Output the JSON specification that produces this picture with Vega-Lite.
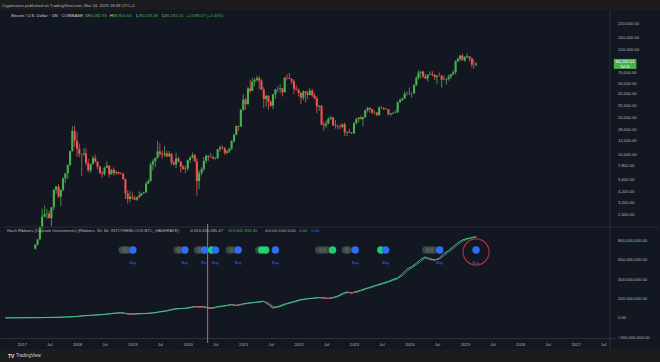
{
"$schema":"https://vega.github.io/schema/vega-lite/v6.json",
"width":660,"height":339,"autosize":"none",
"padding":{"left":0,"right":0,"top":10,"bottom":13},
"background":"#1c1c1e",
"title":{"text":"Cryptorover published on TradingView.com, Mar 24, 2025 18:49 UTC+1","anchor":"start","frame":"group","fontSize":4.2,"fontWeight":"normal","color":"#b2b5be","font":"Liberation Sans","offset":1.5,"dx":2},
"config":{"view":{"stroke":null,"fill":"#131722"},"axis":{"labelColor":"#b2b5be","labelFont":"Liberation Sans","labelFontSize":4.2,"titleFont":"Liberation Sans","domainColor":"#2a2e39","grid":false,"ticks":false},"text":{"font":"Liberation Sans"}},
"datasets":{
"btc":[
{"d":"2017-04-01","o":1080,"h":1210,"l":1060,"c":1190},{"d":"2017-04-16","o":1190,"h":1350,"l":1170,"c":1350},
{"d":"2017-05-01","o":1350,"h":1850,"l":1340,"c":1800},{"d":"2017-05-16","o":1800,"h":2790,"l":1700,"c":2300},
{"d":"2017-06-01","o":2300,"h":2980,"l":2300,"c":2450},{"d":"2017-06-16","o":2450,"h":2780,"l":2200,"c":2480},
{"d":"2017-07-01","o":2480,"h":2650,"l":2200,"c":2230},{"d":"2017-07-16","o":2230,"h":2900,"l":1830,"c":2870},
{"d":"2017-08-01","o":2870,"h":4400,"l":2700,"c":4350},{"d":"2017-08-16","o":4350,"h":4750,"l":3950,"c":4700},
{"d":"2017-09-01","o":4700,"h":4980,"l":3600,"c":3700},{"d":"2017-09-16","o":3700,"h":4400,"l":2970,"c":4350},
{"d":"2017-10-01","o":4350,"h":5850,"l":4200,"c":5700},{"d":"2017-10-16","o":5700,"h":6450,"l":5100,"c":6450},
{"d":"2017-11-01","o":6450,"h":7900,"l":5600,"c":7800},{"d":"2017-11-16","o":7800,"h":11000,"l":7700,"c":10900},
{"d":"2017-12-01","o":10900,"h":19700,"l":10700,"c":17500},{"d":"2017-12-16","o":17500,"h":19900,"l":12000,"c":13900},
{"d":"2018-01-01","o":13900,"h":17200,"l":9500,"c":11500},{"d":"2018-01-16","o":11500,"h":13000,"l":9400,"c":10200},
{"d":"2018-02-01","o":10200,"h":10300,"l":6000,"c":10100},{"d":"2018-02-16","o":10100,"h":11700,"l":9700,"c":10300},
{"d":"2018-03-01","o":10300,"h":11600,"l":7700,"c":8200},{"d":"2018-03-16","o":8200,"h":9100,"l":6600,"c":6900},
{"d":"2018-04-01","o":6900,"h":8100,"l":6450,"c":8000},{"d":"2018-04-16","o":8000,"h":9750,"l":7900,"c":9200},
{"d":"2018-05-01","o":9200,"h":9950,"l":8300,"c":8500},{"d":"2018-05-16","o":8500,"h":8600,"l":7050,"c":7500},
{"d":"2018-06-01","o":7500,"h":7750,"l":6300,"c":6500},{"d":"2018-06-16","o":6500,"h":6800,"l":5800,"c":6350},
{"d":"2018-07-01","o":6350,"h":7500,"l":6100,"c":7350},{"d":"2018-07-16","o":7350,"h":8500,"l":7300,"c":7700},
{"d":"2018-08-01","o":7700,"h":7800,"l":5900,"c":6300},{"d":"2018-08-16","o":6300,"h":7100,"l":6250,"c":7000},
{"d":"2018-09-01","o":7000,"h":7400,"l":6100,"c":6500},{"d":"2018-09-16","o":6500,"h":6850,"l":6200,"c":6620},
{"d":"2018-10-01","o":6620,"h":6700,"l":6200,"c":6450},{"d":"2018-10-16","o":6450,"h":6600,"l":6250,"c":6350},
{"d":"2018-11-01","o":6350,"h":6550,"l":5500,"c":5600},{"d":"2018-11-16","o":5600,"h":5650,"l":3500,"c":4000},
{"d":"2018-12-01","o":4000,"h":4300,"l":3150,"c":3500},{"d":"2018-12-16","o":3500,"h":4250,"l":3250,"c":3700},
{"d":"2019-01-01","o":3700,"h":4100,"l":3450,"c":3600},{"d":"2019-01-16","o":3600,"h":3800,"l":3400,"c":3450},
{"d":"2019-02-01","o":3450,"h":3700,"l":3350,"c":3650},{"d":"2019-02-16","o":3650,"h":4200,"l":3600,"c":3800},
{"d":"2019-03-01","o":3800,"h":4000,"l":3750,"c":4000},{"d":"2019-03-16","o":4000,"h":4150,"l":3950,"c":4100},
{"d":"2019-04-01","o":4100,"h":5300,"l":4050,"c":5050},{"d":"2019-04-16","o":5050,"h":5600,"l":4950,"c":5350},
{"d":"2019-05-01","o":5350,"h":8300,"l":5300,"c":7900},{"d":"2019-05-16","o":7900,"h":9000,"l":6900,"c":8550},
{"d":"2019-06-01","o":8550,"h":9300,"l":7450,"c":9300},{"d":"2019-06-16","o":9300,"h":13800,"l":9050,"c":10800},
{"d":"2019-07-01","o":10800,"h":13200,"l":9600,"c":10200},{"d":"2019-07-16","o":10200,"h":11000,"l":9100,"c":10000},
{"d":"2019-08-01","o":10000,"h":12300,"l":9450,"c":10300},{"d":"2019-08-16","o":10300,"h":10950,"l":9400,"c":9600},
{"d":"2019-09-01","o":9600,"h":10900,"l":9500,"c":10200},{"d":"2019-09-16","o":10200,"h":10350,"l":7800,"c":8300},
{"d":"2019-10-01","o":8300,"h":8700,"l":7700,"c":7950},{"d":"2019-10-16","o":7950,"h":10500,"l":7300,"c":9150},
{"d":"2019-11-01","o":9150,"h":9500,"l":8450,"c":8500},{"d":"2019-11-16","o":8500,"h":8600,"l":6550,"c":7550},
{"d":"2019-12-01","o":7550,"h":7850,"l":7050,"c":7100},{"d":"2019-12-16","o":7100,"h":7700,"l":6450,"c":7200},
{"d":"2020-01-01","o":7200,"h":8900,"l":6850,"c":8800},{"d":"2020-01-16","o":8800,"h":9600,"l":8250,"c":9350},
{"d":"2020-02-01","o":9350,"h":10500,"l":9150,"c":9900},{"d":"2020-02-16","o":9900,"h":10200,"l":8500,"c":8550},
{"d":"2020-03-01","o":8550,"h":9200,"l":3800,"c":5350},{"d":"2020-03-16","o":5350,"h":6900,"l":4450,"c":6450},
{"d":"2020-04-01","o":6450,"h":7450,"l":6150,"c":7100},{"d":"2020-04-16","o":7100,"h":9400,"l":6750,"c":8650},
{"d":"2020-05-01","o":8650,"h":10050,"l":8150,"c":9700},{"d":"2020-05-16","o":9700,"h":9900,"l":8650,"c":9450},
{"d":"2020-06-01","o":9450,"h":10400,"l":9250,"c":9450},{"d":"2020-06-16","o":9450,"h":9800,"l":8950,"c":9150},
{"d":"2020-07-01","o":9150,"h":9450,"l":8900,"c":9200},{"d":"2020-07-16","o":9200,"h":11450,"l":9000,"c":11350},
{"d":"2020-08-01","o":11350,"h":12450,"l":10700,"c":11850},{"d":"2020-08-16","o":11850,"h":12450,"l":11300,"c":11650},
{"d":"2020-09-01","o":11650,"h":12050,"l":9900,"c":10450},{"d":"2020-09-16","o":10450,"h":11150,"l":10150,"c":10800},
{"d":"2020-10-01","o":10800,"h":11700,"l":10400,"c":11500},{"d":"2020-10-16","o":11500,"h":14100,"l":11200,"c":13800},
{"d":"2020-11-01","o":13800,"h":16500,"l":13200,"c":16000},{"d":"2020-11-16","o":16000,"h":19850,"l":15800,"c":19700},
{"d":"2020-12-01","o":19700,"h":19900,"l":17600,"c":19400},{"d":"2020-12-16","o":19400,"h":29300,"l":19300,"c":29000},
{"d":"2021-01-01","o":29000,"h":41900,"l":28000,"c":36800},{"d":"2021-01-16","o":36800,"h":38500,"l":28900,"c":33100},
{"d":"2021-02-01","o":33100,"h":49700,"l":32300,"c":47900},{"d":"2021-02-16","o":47900,"h":58300,"l":43000,"c":45100},
{"d":"2021-03-01","o":45100,"h":61700,"l":45000,"c":55900},{"d":"2021-03-16","o":55900,"h":61000,"l":50300,"c":58800},
{"d":"2021-04-01","o":58800,"h":64850,"l":56500,"c":61300},{"d":"2021-04-16","o":61300,"h":64000,"l":47000,"c":57700},
{"d":"2021-05-01","o":57700,"h":59600,"l":46200,"c":46500},{"d":"2021-05-16","o":46500,"h":49800,"l":30000,"c":37300},
{"d":"2021-06-01","o":37300,"h":41300,"l":31000,"c":40200},{"d":"2021-06-16","o":40200,"h":41000,"l":28800,"c":35000},
{"d":"2021-07-01","o":35000,"h":36000,"l":31100,"c":31800},{"d":"2021-07-16","o":31800,"h":42300,"l":29300,"c":41500},
{"d":"2021-08-01","o":41500,"h":47200,"l":37300,"c":46900},{"d":"2021-08-16","o":46900,"h":50500,"l":43900,"c":47100},
{"d":"2021-09-01","o":47100,"h":52900,"l":42800,"c":48000},{"d":"2021-09-16","o":48000,"h":48500,"l":39600,"c":43800},
{"d":"2021-10-01","o":43800,"h":62900,"l":43300,"c":61600},{"d":"2021-10-16","o":61600,"h":67000,"l":58000,"c":61300},
{"d":"2021-11-01","o":61300,"h":69000,"l":60000,"c":60100},{"d":"2021-11-16","o":60100,"h":60300,"l":53300,"c":57000},
{"d":"2021-12-01","o":57000,"h":59000,"l":42000,"c":47600},{"d":"2021-12-16","o":47600,"h":52000,"l":45600,"c":46300},
{"d":"2022-01-01","o":46300,"h":47900,"l":39600,"c":43100},{"d":"2022-01-16","o":43100,"h":43500,"l":32900,"c":38500},
{"d":"2022-02-01","o":38500,"h":45800,"l":36300,"c":44600},{"d":"2022-02-16","o":44600,"h":44700,"l":34300,"c":43200},
{"d":"2022-03-01","o":43200,"h":45400,"l":37200,"c":41100},{"d":"2022-03-16","o":41100,"h":48200,"l":40500,"c":45500},
{"d":"2022-04-01","o":45500,"h":47400,"l":39200,"c":40500},{"d":"2022-04-16","o":40500,"h":42900,"l":37600,"c":37700},
{"d":"2022-05-01","o":37700,"h":40000,"l":26700,"c":31300},{"d":"2022-05-16","o":31300,"h":32200,"l":28100,"c":31800},
{"d":"2022-06-01","o":31800,"h":32400,"l":20100,"c":20400},{"d":"2022-06-16","o":20400,"h":21900,"l":17600,"c":19900},
{"d":"2022-07-01","o":19900,"h":22500,"l":18800,"c":20800},{"d":"2022-07-16","o":20800,"h":24300,"l":20700,"c":23300},
{"d":"2022-08-01","o":23300,"h":25200,"l":22600,"c":24000},{"d":"2022-08-16","o":24000,"h":24400,"l":19600,"c":20050},
{"d":"2022-09-01","o":20050,"h":22700,"l":18500,"c":19700},{"d":"2022-09-16","o":19700,"h":20400,"l":18150,"c":19400},
{"d":"2022-10-01","o":19400,"h":20500,"l":18200,"c":19200},{"d":"2022-10-16","o":19200,"h":21000,"l":18800,"c":20500},
{"d":"2022-11-01","o":20500,"h":21500,"l":15600,"c":16900},{"d":"2022-11-16","o":16900,"h":17200,"l":15500,"c":17150},
{"d":"2022-12-01","o":17150,"h":18400,"l":16750,"c":16800},{"d":"2022-12-16","o":16800,"h":17000,"l":16300,"c":16550},
{"d":"2023-01-01","o":16550,"h":21400,"l":16500,"c":21100},{"d":"2023-01-16","o":21100,"h":23950,"l":20400,"c":23100},
{"d":"2023-02-01","o":23100,"h":24250,"l":21400,"c":24100},{"d":"2023-02-16","o":24100,"h":25250,"l":23100,"c":23150},
{"d":"2023-03-01","o":23150,"h":24500,"l":19600,"c":24200},{"d":"2023-03-16","o":24200,"h":29200,"l":24100,"c":28500},
{"d":"2023-04-01","o":28500,"h":30950,"l":27150,"c":30300},{"d":"2023-04-16","o":30300,"h":30500,"l":26950,"c":29200},
{"d":"2023-05-01","o":29200,"h":29800,"l":26000,"c":27000},{"d":"2023-05-16","o":27000,"h":28400,"l":25900,"c":27100},
{"d":"2023-06-01","o":27100,"h":27400,"l":24800,"c":25600},{"d":"2023-06-16","o":25600,"h":31400,"l":25000,"c":30500},
{"d":"2023-07-01","o":30500,"h":31800,"l":29700,"c":30300},{"d":"2023-07-16","o":30300,"h":30400,"l":29000,"c":29200},
{"d":"2023-08-01","o":29200,"h":30200,"l":28800,"c":29300},{"d":"2023-08-16","o":29300,"h":29400,"l":25200,"c":25950},
{"d":"2023-09-01","o":25950,"h":26800,"l":24900,"c":26600},{"d":"2023-09-16","o":26600,"h":27500,"l":26000,"c":26950},
{"d":"2023-10-01","o":26950,"h":28600,"l":26550,"c":27150},{"d":"2023-10-16","o":27150,"h":35200,"l":26900,"c":34600},
{"d":"2023-11-01","o":34600,"h":37900,"l":34100,"c":36500},{"d":"2023-11-16","o":36500,"h":38400,"l":35500,"c":37700},
{"d":"2023-12-01","o":37700,"h":44700,"l":37600,"c":42200},{"d":"2023-12-16","o":42200,"h":44300,"l":40500,"c":42300},
{"d":"2024-01-01","o":42300,"h":48950,"l":40800,"c":42500},{"d":"2024-01-16","o":42500,"h":43600,"l":38500,"c":42600},
{"d":"2024-02-01","o":42600,"h":52800,"l":41900,"c":51900},{"d":"2024-02-16","o":51900,"h":64000,"l":50500,"c":61200},
{"d":"2024-03-01","o":61200,"h":73800,"l":59300,"c":69500},{"d":"2024-03-16","o":69500,"h":71500,"l":60800,"c":71300},
{"d":"2024-04-01","o":71300,"h":72800,"l":61700,"c":63400},{"d":"2024-04-16","o":63400,"h":67200,"l":59700,"c":60650},
{"d":"2024-05-01","o":60650,"h":66900,"l":56500,"c":66200},{"d":"2024-05-16","o":66200,"h":71900,"l":65700,"c":67500},
{"d":"2024-06-01","o":67500,"h":71950,"l":64100,"c":66100},{"d":"2024-06-16","o":66100,"h":66900,"l":58400,"c":62700},
{"d":"2024-07-01","o":62700,"h":65000,"l":53500,"c":64800},{"d":"2024-07-16","o":64800,"h":70000,"l":63300,"c":64600},
{"d":"2024-08-01","o":64600,"h":65600,"l":49000,"c":58700},{"d":"2024-08-16","o":58700,"h":65100,"l":57800,"c":58950},
{"d":"2024-09-01","o":58950,"h":60500,"l":52500,"c":60300},{"d":"2024-09-16","o":60300,"h":66500,"l":57500,"c":63300},
{"d":"2024-10-01","o":63300,"h":67200,"l":59800,"c":67000},{"d":"2024-10-16","o":67000,"h":73600,"l":65500,"c":70200},
{"d":"2024-11-01","o":70200,"h":93400,"l":66800,"c":91000},{"d":"2024-11-16","o":91000,"h":99600,"l":89400,"c":96400},
{"d":"2024-12-01","o":96400,"h":105200,"l":90500,"c":104300},{"d":"2024-12-16","o":104300,"h":108300,"l":92200,"c":93400},
{"d":"2025-01-01","o":93400,"h":102700,"l":89300,"c":100500},{"d":"2025-01-16","o":100500,"h":109400,"l":97800,"c":102400},
{"d":"2025-02-01","o":102400,"h":102500,"l":91200,"c":97500},{"d":"2025-02-16","o":97500,"h":99500,"l":78200,"c":84300},
{"d":"2025-03-01","o":84300,"h":95000,"l":76600,"c":84000},{"d":"2025-03-16","o":84000,"h":88800,"l":81200,"c":86192}
],
"hash":[
{"d":"2016-09-15","f":1800000,"s":1700000},{"d":"2016-10-15","f":2000000,"s":1900000},{"d":"2016-11-15","f":2100000,"s":2000000},{"d":"2016-12-15","f":2400000,"s":2200000},
{"d":"2017-01-15","f":2800000,"s":2600000},{"d":"2017-02-15","f":3000000,"s":2900000},{"d":"2017-03-15","f":3400000,"s":3200000},{"d":"2017-04-15","f":3700000,"s":3500000},
{"d":"2017-05-15","f":4300000,"s":4000000},{"d":"2017-06-15","f":5600000,"s":5000000},{"d":"2017-07-15","f":6300000,"s":5900000},{"d":"2017-08-15","f":7000000,"s":6600000},
{"d":"2017-09-15","f":8500000,"s":7800000},{"d":"2017-10-15","f":10000000,"s":9200000},{"d":"2017-11-15","f":12000000,"s":11000000},{"d":"2017-12-15","f":14000000,"s":13000000},
{"d":"2018-01-15","f":19000000,"s":16500000},{"d":"2018-02-15","f":24000000,"s":21500000},{"d":"2018-03-15","f":26000000,"s":25000000},{"d":"2018-04-15","f":29000000,"s":27500000},
{"d":"2018-05-15","f":33000000,"s":31000000},{"d":"2018-06-15","f":36000000,"s":34500000},{"d":"2018-07-15","f":40000000,"s":38000000},{"d":"2018-08-15","f":46000000,"s":43000000},
{"d":"2018-09-15","f":51000000,"s":48500000},{"d":"2018-10-15","f":54000000,"s":52500000},{"d":"2018-11-15","f":46000000,"s":50000000},{"d":"2018-12-15","f":39000000,"s":42500000},
{"d":"2019-01-15","f":42000000,"s":40500000},{"d":"2019-02-15","f":44000000,"s":43000000},{"d":"2019-03-15","f":46000000,"s":45000000},{"d":"2019-04-15","f":48000000,"s":47000000},
{"d":"2019-05-15","f":53000000,"s":50500000},{"d":"2019-06-15","f":60000000,"s":56500000},{"d":"2019-07-15","f":68000000,"s":64000000},{"d":"2019-08-15","f":74000000,"s":71000000},
{"d":"2019-09-15","f":88000000,"s":81000000},{"d":"2019-10-15","f":95000000,"s":91500000},{"d":"2019-11-15","f":97000000,"s":96000000},{"d":"2019-12-15","f":100000000,"s":98500000},
{"d":"2020-01-15","f":108000000,"s":104000000},{"d":"2020-02-15","f":118000000,"s":113000000},{"d":"2020-03-15","f":113000000,"s":115500000},{"d":"2020-04-15","f":116000000,"s":114500000},
{"d":"2020-05-15","f":100000000,"s":108000000},{"d":"2020-06-15","f":103000000,"s":101500000},{"d":"2020-07-15","f":117000000,"s":110000000},{"d":"2020-08-15","f":122000000,"s":119500000},
{"d":"2020-09-15","f":130000000,"s":126000000},{"d":"2020-10-15","f":138000000,"s":134000000},{"d":"2020-11-15","f":127000000,"s":132500000},{"d":"2020-12-15","f":140000000,"s":133500000},
{"d":"2021-01-15","f":150000000,"s":145000000},{"d":"2021-02-15","f":155000000,"s":152500000},{"d":"2021-03-15","f":160000000,"s":157500000},{"d":"2021-04-15","f":165000000,"s":162500000},
{"d":"2021-05-15","f":172000000,"s":168500000},{"d":"2021-06-15","f":140000000,"s":156000000},{"d":"2021-07-15","f":102000000,"s":121000000},{"d":"2021-08-15","f":115000000,"s":108500000},
{"d":"2021-09-15","f":135000000,"s":125000000},{"d":"2021-10-15","f":150000000,"s":142500000},{"d":"2021-11-15","f":162000000,"s":156000000},{"d":"2021-12-15","f":175000000,"s":168500000},
{"d":"2022-01-15","f":190000000,"s":182500000},{"d":"2022-02-15","f":195000000,"s":192500000},{"d":"2022-03-15","f":200000000,"s":197500000},{"d":"2022-04-15","f":205000000,"s":202500000},
{"d":"2022-05-15","f":210000000,"s":207500000},{"d":"2022-06-15","f":205000000,"s":207500000},{"d":"2022-07-15","f":200000000,"s":202500000},{"d":"2022-08-15","f":210000000,"s":205000000},
{"d":"2022-09-15","f":225000000,"s":217500000},{"d":"2022-10-15","f":250000000,"s":237500000},{"d":"2022-11-15","f":268000000,"s":259000000},{"d":"2022-12-15","f":255000000,"s":261500000},
{"d":"2023-01-15","f":270000000,"s":262500000},{"d":"2023-02-15","f":285000000,"s":277500000},{"d":"2023-03-15","f":300000000,"s":292500000},{"d":"2023-04-15","f":315000000,"s":307500000},
{"d":"2023-05-15","f":330000000,"s":322500000},{"d":"2023-06-15","f":345000000,"s":337500000},{"d":"2023-07-15","f":360000000,"s":352500000},{"d":"2023-08-15","f":375000000,"s":367500000},
{"d":"2023-09-15","f":395000000,"s":385000000},{"d":"2023-10-15","f":410000000,"s":402500000},{"d":"2023-11-15","f":450000000,"s":430000000},{"d":"2023-12-15","f":500000000,"s":475000000},
{"d":"2024-01-15","f":525000000,"s":512500000},{"d":"2024-02-15","f":560000000,"s":542500000},{"d":"2024-03-15","f":600000000,"s":580000000},{"d":"2024-04-15","f":626000000,"s":613000000},
{"d":"2024-05-15","f":600000000,"s":613000000},{"d":"2024-06-15","f":595000000,"s":597500000},{"d":"2024-07-15","f":610000000,"s":602500000},{"d":"2024-08-15","f":660000000,"s":635000000},
{"d":"2024-09-15","f":690000000,"s":675000000},{"d":"2024-10-15","f":730000000,"s":710000000},{"d":"2024-11-15","f":770000000,"s":750000000},{"d":"2024-12-15","f":800000000,"s":785000000},
{"d":"2025-01-15","f":815000000,"s":807500000},{"d":"2025-02-15","f":825000000,"s":820000000},{"d":"2025-03-17","f":835000000,"s":830000000}
],
"cap":[
{"d":"2018-10-15","f":54000000,"g":1},{"d":"2018-11-15","f":46000000,"g":1},{"d":"2018-12-15","f":39000000,"g":1},{"d":"2019-01-15","f":42000000,"g":1},
{"d":"2020-02-15","f":118000000,"g":2},{"d":"2020-03-15","f":113000000,"g":2},{"d":"2020-04-15","f":116000000,"g":2},{"d":"2020-05-15","f":100000000,"g":2},{"d":"2020-06-15","f":103000000,"g":2},
{"d":"2020-10-15","f":138000000,"g":3},{"d":"2020-11-15","f":127000000,"g":3},{"d":"2020-12-15","f":140000000,"g":3},
{"d":"2021-05-15","f":172000000,"g":4},{"d":"2021-06-15","f":140000000,"g":4},{"d":"2021-07-15","f":102000000,"g":4},{"d":"2021-08-15","f":115000000,"g":4},
{"d":"2022-05-15","f":210000000,"g":5},{"d":"2022-06-15","f":205000000,"g":5},{"d":"2022-07-15","f":200000000,"g":5},{"d":"2022-08-15","f":210000000,"g":5},
{"d":"2022-11-15","f":268000000,"g":6},{"d":"2022-12-15","f":255000000,"g":6},{"d":"2023-01-15","f":270000000,"g":6},
{"d":"2024-04-15","f":626000000,"g":7},{"d":"2024-05-15","f":600000000,"g":7},{"d":"2024-06-15","f":595000000,"g":7},{"d":"2024-07-15","f":610000000,"g":7}
],
"dots":[
{"d":"2018-10-25","t":"cap"},{"d":"2018-11-13","t":"cap"},{"d":"2018-12-03","t":"cap"},{"d":"2019-01-04","t":"buy"},
{"d":"2019-10-23","t":"cap"},{"d":"2019-11-11","t":"cap"},{"d":"2019-12-13","t":"buy"},
{"d":"2020-03-06","t":"cap"},{"d":"2020-03-26","t":"cap"},{"d":"2020-04-21","t":"buy"},{"d":"2020-06-06","t":"rec"},{"d":"2020-07-02","t":"buy"},
{"d":"2020-10-01","t":"cap"},{"d":"2020-10-26","t":"cap"},{"d":"2020-11-28","t":"buy"},
{"d":"2021-04-13","t":"cap"},{"d":"2021-05-03","t":"rec"},{"d":"2021-05-29","t":"rec"},{"d":"2021-08-01","t":"buy"},
{"d":"2022-05-14","t":"cap"},{"d":"2022-06-09","t":"cap"},{"d":"2022-07-05","t":"cap"},{"d":"2022-08-13","t":"rec"},
{"d":"2022-11-05","t":"cap"},{"d":"2022-11-24","t":"cap"},{"d":"2023-01-09","t":"buy"},
{"d":"2023-06-27","t":"rec"},{"d":"2023-07-29","t":"buy"},
{"d":"2024-04-19","t":"cap"},{"d":"2024-05-15","t":"cap"},{"d":"2024-06-10","t":"cap"},{"d":"2024-07-19","t":"buy"},
{"d":"2025-03-16","t":"buy"}
],
"hdr":[
{"d":"2016-10-25","txt":"Bitcoin / U.S. Dollar · 1W · COINBASE","k":"w"},
{"d":"2018-02-24","txt":"O","k":"w"},{"d":"2018-03-15","txt":"86,082.95","k":"g"},
{"d":"2018-08-05","txt":"H","k":"w"},{"d":"2018-08-24","txt":"88,804.64","k":"g"},
{"d":"2019-01-27","txt":"L","k":"w"},{"d":"2019-02-15","txt":"85,533.08","k":"g"},
{"d":"2019-07-14","txt":"C","k":"w"},{"d":"2019-08-02","txt":"86,192.01","k":"g"},
{"d":"2019-12-23","txt":"+2,099.07 (+2.44%)","k":"g"}
],
"leg":[
{"d":"2016-09-26","txt":"Hash Ribbons (Capriole Investments) (Ribbons, 30, 60, INTOTHEBLOCK:BTC_HASHRATE)","k":"w"},
{"d":"2020-01-14","txt":"⊘ 613,436,085.47","k":"w"},
{"d":"2020-09-24","txt":"613,841,994.35","k":"g"},
{"d":"2021-05-22","txt":"⊘ 0.00  0.00  0.00","k":"w"},
{"d":"2022-01-05","txt":"0.00","k":"g"},
{"d":"2022-03-23","txt":"1.00","k":"b"}
]
},
"encoding":{"x":{"field":"d","type":"temporal","scale":{"type":"utc","domain":[{"year":2016,"month":9,"date":13,"utc":true},{"year":2027,"month":8,"date":16,"utc":true}],"range":[0,615]},
"axis":{"orient":"bottom","offset":-11,"tickCount":{"interval":"month","step":6},"labelExpr":"utcFormat(datum.value,'%m')=='01'?utcFormat(datum.value,'%Y'):'Jul'","title":null,"domain":true,"domainColor":"#2a2e39","ticks":false,"labelPadding":4.5,"labelFlush":false,"labelOverlap":false,"grid":false}}},
"layer":[
{"layer":[
{"data":{"name":"btc"},"mark":{"type":"rule","clip":true,"strokeWidth":0.8},
"encoding":{"y":{"field":"l","type":"quantitative","title":null,"scale":{"type":"log","domain":[1850,292000],"range":[216,2],"nice":false},
"axis":{"orient":"right","offset":-45,"values":[2400,3200,4200,5600,7800,10000,14000,18000,24000,32000,42000,54000,70000,120000,160000,220000],"format":",.2f","title":"USD","titleAngle":0,"titleX":5,"titleY":5,"titleAlign":"left","titleBaseline":"middle","titleFontSize":4.2,"titleColor":"#d1d4dc","titleFontWeight":"normal","domain":false,"ticks":false,"grid":false,"labelPadding":2.5,"labelFlush":false,"labelOverlap":false}},
"y2":{"field":"h"},
"color":{"condition":{"test":"datum.c>=datum.o","value":"#4caf50"},"value":"#ef5350"}}},
{"data":{"name":"btc"},"mark":{"type":"bar","clip":true,"width":2.1},
"encoding":{"y":{"field":"o","type":"quantitative","title":null},"y2":{"field":"c"},
"color":{"condition":{"test":"datum.c>=datum.o","value":"#4caf50"},"value":"#ef5350"}}},
{"data":{"name":"hdr"},"transform":[{"filter":"datum.k=='w'"}],"mark":{"type":"text","align":"left","baseline":"middle","fontSize":4.2,"color":"#d1d4dc"},
"encoding":{"y":{"datum":265900},"text":{"field":"txt"}}},
{"data":{"name":"hdr"},"transform":[{"filter":"datum.k=='g'"}],"mark":{"type":"text","align":"left","baseline":"middle","fontSize":4.2,"color":"#4caf50"},
"encoding":{"y":{"datum":265900},"text":{"field":"txt"}}},
{"data":{"values":[{"d":"2027-09-10","d2":"2028-02-06"}]},"mark":{"type":"rect","color":"#4caf50"},
"encoding":{"x2":{"field":"d2"},"y":{"datum":96200},"y2":{"datum":75950}}},
{"data":{"values":[{"d":"2027-11-24","txt":"86,192.01"}]},"mark":{"type":"text","align":"center","baseline":"middle","fontSize":4.2,"color":"#ffffff"},
"encoding":{"y":{"datum":89000},"text":{"field":"txt"}}},
{"data":{"values":[{"d":"2027-11-24","txt":"6d 5h"}]},"mark":{"type":"text","align":"center","baseline":"middle","fontSize":3.6,"color":"#ffffff"},
"encoding":{"y":{"datum":79500},"text":{"field":"txt"}}}
]},
{"layer":[
{"data":{"name":"hash"},"mark":{"type":"line","strokeWidth":1,"color":"#2a8c6e"},
"encoding":{"y":{"field":"s","type":"quantitative","title":null,"scale":{"domain":[-215400000,923100000],"range":[329,218],"zero":false,"nice":false},
"axis":{"orient":"right","offset":-45,"values":[-200000000,0,200000000,400000000,600000000,800000000],"format":",.2f","title":null,"domain":false,"ticks":false,"grid":false,"labelPadding":2.5,"labelFlush":false,"labelOverlap":false}}}},
{"data":{"name":"hash"},"mark":{"type":"line","strokeWidth":1,"color":"#4cc38a"},
"encoding":{"y":{"field":"f","type":"quantitative","title":null}}},
{"data":{"name":"cap"},"mark":{"type":"line","strokeWidth":1,"color":"#e0475a"},
"encoding":{"y":{"field":"f","type":"quantitative","title":null},"detail":{"field":"g"}}},
{"data":{"values":[{"d":"2016-09-01","d2":"2028-07-01"}]},"mark":{"type":"rule","color":"#2a2e39","strokeWidth":1},
"encoding":{"x2":{"field":"d2"},"y":{"datum":933000000}}},
{"data":{"values":[{"d":"2027-08-16"}]},"mark":{"type":"rule","color":"#2a2e39","strokeWidth":1},
"encoding":{"y":{"datum":3159000000},"y2":{"datum":-318000000}}},
{"data":{"values":[{"d":"2020-05-11"}]},"mark":{"type":"rule","color":"#f0626a","strokeWidth":1,"opacity":0.9},
"encoding":{"y":{"datum":964000000},"y2":{"datum":-256000000}}},
{"data":{"name":"dots"},"transform":[{"filter":"datum.t=='cap'"}],"mark":{"type":"point","filled":true,"shape":"circle","size":55,"color":"#5b6e5b","opacity":0.55},
"encoding":{"y":{"datum":697000000}}},
{"data":{"name":"dots"},"transform":[{"filter":"datum.t=='rec'"}],"mark":{"type":"point","filled":true,"shape":"circle","size":55,"color":"#1fe07a","opacity":0.9},
"encoding":{"y":{"datum":697000000}}},
{"data":{"name":"dots"},"transform":[{"filter":"datum.t=='buy'"}],"mark":{"type":"point","filled":true,"shape":"circle","size":55,"color":"#2f6df6","opacity":1},
"encoding":{"y":{"datum":697000000}}},
{"data":{"name":"dots"},"transform":[{"filter":"datum.t=='buy'"}],"mark":{"type":"text","align":"center","baseline":"middle","fontSize":4,"color":"#2f6df6"},
"encoding":{"y":{"datum":564000000},"text":{"value":"Buy"}}},
{"data":{"values":[{"d":"2025-03-16"}]},"mark":{"type":"point","filled":false,"shape":"circle","size":680,"color":"#e53945","strokeWidth":1.3},
"encoding":{"y":{"datum":677000000}}},
{"data":{"name":"leg"},"transform":[{"filter":"datum.k=='w'"}],"mark":{"type":"text","align":"left","baseline":"middle","fontSize":4.2,"color":"#b2b5be"},
"encoding":{"y":{"datum":892000000},"text":{"field":"txt"}}},
{"data":{"name":"leg"},"transform":[{"filter":"datum.k=='g'"}],"mark":{"type":"text","align":"left","baseline":"middle","fontSize":4.2,"color":"#4caf50"},
"encoding":{"y":{"datum":892000000},"text":{"field":"txt"}}},
{"data":{"name":"leg"},"transform":[{"filter":"datum.k=='b'"}],"mark":{"type":"text","align":"left","baseline":"middle","fontSize":4.2,"color":"#2f6df6"},
"encoding":{"y":{"datum":892000000},"text":{"field":"txt"}}},
{"data":{"values":[{"d":"2016-10-03","txt":"TV"}]},"mark":{"type":"text","align":"left","baseline":"middle","fontSize":5,"fontWeight":"bold","color":"#e0e3eb"},
"encoding":{"y":{"datum":-389700000},"text":{"field":"txt"}}},
{"data":{"values":[{"d":"2016-11-24","txt":"TradingView"}]},"mark":{"type":"text","align":"left","baseline":"middle","fontSize":4.5,"color":"#d1d4dc"},
"encoding":{"y":{"datum":-389700000},"text":{"field":"txt"}}}
]}
],
"resolve":{"scale":{"y":"independent"}}
}
